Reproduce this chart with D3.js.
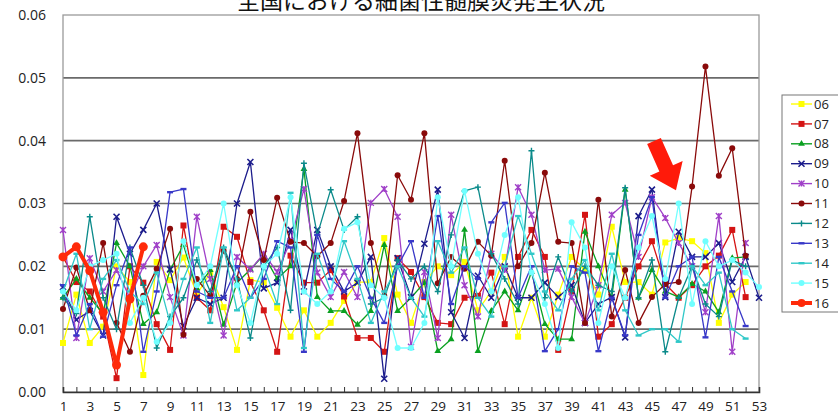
<!DOCTYPE html>
<html>
<head>
<meta charset="utf-8">
<script src="https://cdn.jsdelivr.net/npm/d3@7"></script>
<style>
  body { margin: 0; background: #fff; }
  svg { display: block; font-family: "Liberation Sans", Arial, sans-serif; }
</style>
</head>
<body>
<svg id="chart" width="838" height="414"></svg>
<script>
// Weekly incidence (per sentinel site) of bacterial meningitis, by year 2006-2016
const weeks = d3.range(1, 54);
const yTicks = [0, 0.01, 0.02, 0.03, 0.04, 0.05, 0.06];
const xTickLabels = d3.range(1, 54, 2);
const seriesNames = ["06", "07", "08", "09", "10", "11", "12", "13", "14", "15", "16"];

const s06 = [.0078,.0155,.0078,.0104,.0200,.0175,.0027,.0207,.0178,.0214,.0155,.0190,.0135,.0067,.0178,.0175,.0134,.0088,.0130,.0088,.0110,.0145,.0175,.0175,.0245,.0155,.0110,.0175,.0200,.0186,.0207,.0130,.0160,.0215,.0088,.0150,.0088,.0155,.0215,.0195,.0155,.0263,.0175,.0175,.0155,.0238,.0245,.0240,.0221,.0110,.0155,.0175];
const s07 = [.0215,.0175,.0160,.0120,.0022,.0200,.0174,.0108,.0067,.0265,.0150,.0130,.0263,.0247,.0175,.0130,.0064,.0217,.0174,.0174,.0194,.0152,.0086,.0086,.0064,.0213,.0191,.0151,.0110,.0108,.0150,.0153,.0190,.0108,.0215,.0258,.0215,.0067,.0160,.0282,.0088,.0108,.0150,.0200,.0240,.0172,.0150,.0170,.0200,.0217,.0258,.0151];
const s08 = [.0150,.0180,.0150,.0125,.0237,.0200,.0108,.0127,.0194,.0234,.0165,.0194,.0107,.0174,.0195,.0218,.0180,.0200,.0355,.0151,.0129,.0129,.0107,.0129,.0234,.0129,.0150,.0174,.0065,.0084,.0258,.0065,.0129,.0160,.0130,.0191,.0108,.0084,.0084,.0255,.0200,.0150,.0322,.0150,.0194,.0160,.0151,.0172,.0160,.0127,.0213,.0215];
const s09 = [.0167,.0115,.0129,.0090,.0279,.0220,.0258,.0300,.0195,.0105,.0150,.0140,.0150,.0300,.0366,.0165,.0174,.0258,.0160,.0258,.0200,.0160,.0174,.0215,.0021,.0213,.0151,.0236,.0322,.0127,.0086,.0185,.0150,.0200,.0150,.0150,.0174,.0151,.0170,.0110,.0140,.0151,.0087,.0280,.0322,.0151,.0255,.0215,.0215,.0237,.0175,.0215,.0150];
const s10 = [.0258,.0086,.0213,.0160,.0194,.0150,.0200,.0234,.0151,.0090,.0279,.0180,.0090,.0215,.0195,.0220,.0191,.0240,.0323,.0190,.0151,.0191,.0151,.0301,.0323,.0279,.0072,.0191,.0086,.0282,.0170,.0120,.0220,.0194,.0326,.0282,.0194,.0196,.0151,.0110,.0170,.0282,.0301,.0215,.0310,.0277,.0237,.0200,.0127,.0280,.0064,.0237];
const s11 = [.0132,.0198,.0130,.0237,.0110,.0064,.0153,.0196,.0260,.0091,.0180,.0153,.0225,.0180,.0287,.0210,.0309,.0239,.0237,.0216,.0237,.0304,.0412,.0237,.0153,.0345,.0306,.0412,.0173,.0215,.0196,.0239,.0217,.0368,.0200,.0237,.0349,.0239,.0237,.0110,.0306,.0120,.0194,.0110,.0151,.0172,.0175,.0327,.0518,.0344,.0388,.0217];
const s12 = [.0150,.0125,.0279,.0150,.0100,.0230,.0170,.0070,.0120,.0150,.0210,.0160,.0230,.0180,.0086,.0200,.0230,.0130,.0364,.0250,.0322,.0258,.0279,.0140,.0150,.0210,.0180,.0200,.0160,.0250,.0320,.0326,.0220,.0180,.0140,.0384,.0150,.0215,.0160,.0200,.0170,.0160,.0325,.0150,.0210,.0064,.0150,.0200,.0140,.0120,.0210,.0200];
const s13 = [.0170,.0090,.0140,.0088,.0170,.0230,.0064,.0160,.0318,.0323,.0160,.0150,.0150,.0200,.0150,.0180,.0240,.0230,.0064,.0250,.0180,.0160,.0200,.0150,.0110,.0200,.0240,.0150,.0280,.0140,.0200,.0180,.0270,.0301,.0150,.0200,.0065,.0100,.0200,.0190,.0065,.0150,.0090,.0250,.0310,.0150,.0200,.0215,.0087,.0215,.0160,.0105];
const s14 = [.0160,.0220,.0100,.0180,.0210,.0160,.0140,.0190,.0110,.0180,.0230,.0110,.0230,.0130,.0150,.0200,.0140,.0317,.0070,.0220,.0160,.0240,.0180,.0110,.0160,.0200,.0150,.0120,.0240,.0190,.0230,.0150,.0120,.0200,.0280,.0220,.0160,.0130,.0180,.0210,.0130,.0220,.0130,.0090,.0100,.0100,.0080,.0200,.0170,.0190,.0100,.0085];
const s15 = [.0160,.0130,.0200,.0210,.0220,.0110,.0150,.0080,.0110,.0240,.0170,.0200,.0300,.0170,.0110,.0200,.0220,.0310,.0160,.0140,.0160,.0260,.0270,.0170,.0150,.0070,.0070,.0110,.0310,.0200,.0320,.0220,.0160,.0250,.0310,.0190,.0140,.0070,.0270,.0230,.0110,.0200,.0150,.0230,.0280,.0180,.0300,.0140,.0240,.0200,.0210,.0190,.0167];
const s16 = [.0215,.0231,.0193,.0127,.0043,.0148,.0231];

const seriesValues = [s06, s07, s08, s09, s10, s11, s12, s13, s14, s15, s16];
const seriesColors = ["#ffff00", "#d41414", "#0aa020", "#1c1c8c", "#a040c8", "#8a0a0a", "#0a8a8a", "#3838c8", "#30c8c8", "#70ffff", "#ff2a0a"];
const seriesMarkers = ["square", "square", "triangle", "times", "asterisk", "circle", "plus", "dash", "dash", "circle", "circle"];

const svg = d3.select("#chart");
const plotLeft = 63, plotRight = 759, plotTop = 15, plotBottom = 392;

const x = d3.scaleLinear().domain([1, 53]).range([plotLeft, plotRight]);
const y = d3.scaleLinear().domain([0, 0.06]).range([plotBottom, plotTop]);

// title (sits partly above the page edge)
svg.append("text")
  .attr("x", 421).attr("y", 9)
  .attr("text-anchor", "middle")
  .attr("font-family", "'Noto Sans CJK JP', sans-serif")
  .attr("font-size", 23)
  .attr("fill", "#111")
  .text("全国における細菌性髄膜炎発生状況");

// gridlines
svg.append("g").selectAll("line")
  .data(yTicks.filter(v => v > 0 && v < 0.06))
  .join("line")
  .attr("x1", plotLeft).attr("x2", plotRight)
  .attr("y1", d => y(d)).attr("y2", d => y(d))
  .attr("stroke", "#6a6a6a").attr("stroke-width", 1.6);

// plot frame
svg.append("rect")
  .attr("x", plotLeft).attr("y", plotTop)
  .attr("width", plotRight - plotLeft).attr("height", plotBottom - plotTop)
  .attr("fill", "none").attr("stroke", "#9a9a9a").attr("stroke-width", 1.3);

// y axis
const yAxis = d3.axisLeft(y).tickValues(yTicks).tickFormat(d3.format(".2f")).tickSize(0).tickPadding(17);
const gy = svg.append("g").attr("transform", `translate(${plotLeft},0)`).call(yAxis);
gy.select(".domain").remove();
gy.selectAll("text").attr("font-size", 14).attr("fill", "#222").attr("font-family", "'Open Sans', sans-serif");

// x axis: a tick for every week, labels on odd weeks
const xAxis = d3.axisBottom(x).tickValues(weeks).tickSize(-5).tickPadding(9)
  .tickFormat(d => xTickLabels.includes(d) ? d : "");
const gx = svg.append("g").attr("transform", `translate(0,${plotBottom})`).call(xAxis);
gx.select(".domain").attr("stroke", "#333").attr("stroke-width", 1.6);
gx.selectAll(".tick line").attr("stroke", "#333").attr("stroke-width", 1);
gx.selectAll("text").attr("font-size", 13.5).attr("fill", "#222").attr("font-family", "'Open Sans', sans-serif");

// marker drawing
function drawMarker(g, type, color, size) {
  const s = size;
  if (type === "square") {
    g.append("rect").attr("x", -s / 2).attr("y", -s / 2).attr("width", s).attr("height", s).attr("fill", color);
  } else if (type === "circle") {
    g.append("circle").attr("r", s / 2).attr("fill", color);
  } else if (type === "triangle") {
    g.append("path").attr("d", d3.symbol(d3.symbolTriangle, s * s * 0.55)()).attr("fill", color);
  } else if (type === "times") {
    g.append("path").attr("d", `M${-s/2},${-s/2}L${s/2},${s/2}M${-s/2},${s/2}L${s/2},${-s/2}`).attr("stroke", color).attr("stroke-width", 1.6);
  } else if (type === "asterisk") {
    g.append("path").attr("d", `M${-s/2},${-s/2}L${s/2},${s/2}M${-s/2},${s/2}L${s/2},${-s/2}M0,${-s/2}L0,${s/2}`).attr("stroke", color).attr("stroke-width", 1.4);
  } else if (type === "plus") {
    g.append("path").attr("d", `M${-s/2},0L${s/2},0M0,${-s/2}L0,${s/2}`).attr("stroke", color).attr("stroke-width", 1.4);
  } else if (type === "dash") {
    g.append("path").attr("d", `M${-s/2},0L${s/2},0`).attr("stroke", color).attr("stroke-width", 2.4);
  }
}

const line = d3.line().x((d, i) => x(weeks[i])).y(d => y(d));
const plot = svg.append("g");

seriesValues.forEach((vals, k) => {
  const color = seriesColors[k];
  const thick = k === 10;
  plot.append("path")
    .datum(vals)
    .attr("d", line)
    .attr("fill", "none")
    .attr("stroke", color)
    .attr("stroke-width", thick ? 4 : 1.3)
    .attr("stroke-linejoin", "round");
  vals.forEach((v, i) => {
    const g = plot.append("g").attr("transform", `translate(${x(weeks[i])},${y(v)})`);
    drawMarker(g, seriesMarkers[k], color, thick ? 9 : 6);
  });
});

// pointer arrow
const arrow = svg.append("g").attr("transform", "translate(654,141) rotate(66)");
arrow.append("path")
  .attr("d", "M0,-7.5L30,-7.5L30,-18L54,0L30,18L30,7.5L0,7.5Z")
  .attr("fill", "#ff1a0a");

// legend
const lg = svg.append("g");
lg.append("rect").attr("x", 782).attr("y", 95).attr("width", 70).attr("height", 217)
  .attr("fill", "#fff").attr("stroke", "#777").attr("stroke-width", 1);
seriesNames.forEach((name, k) => {
  const cy = 104 + k * 19.9;
  const color = seriesColors[k];
  const thick = k === 10;
  lg.append("line").attr("x1", 791).attr("x2", 812).attr("y1", cy).attr("y2", cy)
    .attr("stroke", color).attr("stroke-width", thick ? 4 : 1.4);
  const g = lg.append("g").attr("transform", `translate(801.5,${cy})`);
  drawMarker(g, seriesMarkers[k], color, thick ? 8 : 6);
  lg.append("text").attr("x", 814).attr("y", cy).attr("dy", "0.36em")
    .attr("font-size", 13).attr("fill", "#222").attr("font-family", "'Open Sans', sans-serif")
    .text(name);
});
</script>
</body>
</html>
